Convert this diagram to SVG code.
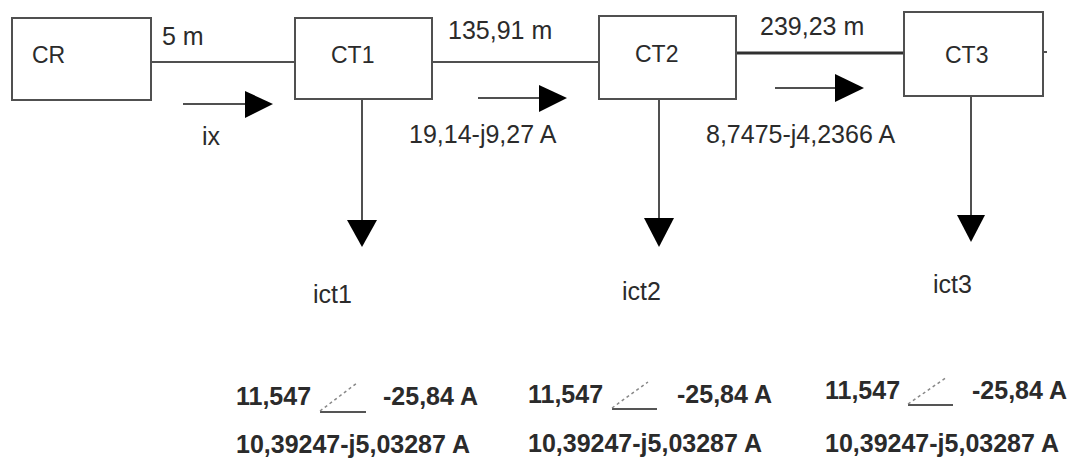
<svg xmlns="http://www.w3.org/2000/svg" width="1078" height="470" viewBox="0 0 1078 470">
<style>
.box{fill:#fff;stroke:#505050;stroke-width:2}
.ln{stroke:#505050;stroke-width:2;fill:none}
.thick{stroke:#303030;stroke-width:3.2;fill:none}
.arr{fill:#000}
text{font-family:"Liberation Sans",Arial,sans-serif;font-size:25px;fill:#2b2b2b}
.nm{font-size:23px}
.b{font-weight:bold}
.ang{stroke:#555;stroke-width:2;fill:none}
.dash{stroke:#888;stroke-width:1.5;stroke-dasharray:3 3;fill:none}
</style>
<rect width="1078" height="470" fill="#fff"/>
<g id="connectors">
<line class="ln" x1="151" y1="62" x2="295" y2="62"/>
<line class="ln" x1="432" y1="62" x2="599" y2="62"/>
<line class="thick" x1="736" y1="53" x2="904" y2="53"/>
<line class="ln" x1="1043" y1="52" x2="1047" y2="52"/>
<line class="ln" x1="183" y1="104" x2="247" y2="104"/>
<polygon class="arr" points="245,91 273,104 245,118"/>
<line class="ln" x1="478" y1="98" x2="541" y2="98"/>
<polygon class="arr" points="539,85 567,98 539,112"/>
<line class="ln" x1="775" y1="88" x2="837" y2="88"/>
<polygon class="arr" points="835,74 864,88 835,102"/>
<line class="ln" x1="362" y1="99" x2="362" y2="222"/>
<polygon class="arr" points="347,220 377,220 362,247"/>
<line class="ln" x1="659" y1="99" x2="659" y2="220"/>
<polygon class="arr" points="644,218 674,218 659,247"/>
<line class="ln" x1="971" y1="96" x2="971" y2="217"/>
<polygon class="arr" points="957,215 985,215 971,242"/>
</g>
<g id="CR"><rect class="box" x="12" y="18" width="139" height="82"/><text class="nm" x="32" y="63">CR</text></g>
<g id="CT1"><rect class="box" x="295" y="18" width="137" height="81"/><text class="nm" x="331" y="63">CT1</text></g>
<g id="CT2"><rect class="box" x="599" y="16" width="137" height="83"/><text class="nm" x="635" y="62">CT2</text></g>
<g id="CT3"><rect class="box" x="904" y="12" width="139" height="84"/><text class="nm" x="945" y="63">CT3</text></g>
<g id="labels">
<text x="162" y="45">5 m</text>
<text x="202" y="145">ix</text>
<text x="448" y="39">135,91 m</text>
<text x="409" y="143" font-size="25.5">19,14-j9,27 A</text>
<text x="760" y="35">239,23 m</text>
<text x="706" y="143" font-size="25.5">8,7475-j4,2366 A</text>
<text x="313" y="303">ict1</text>
<text x="622" y="300">ict2</text>
<text x="933" y="293">ict3</text>
</g>
<g id="values1">
<text class="b" x="236" y="405">11,547</text>
<line class="ang" x1="320" y1="412" x2="366" y2="412"/>
<line class="dash" x1="320" y1="411" x2="357" y2="383"/>
<text class="b" x="383" y="405">-25,84 A</text>
<text class="b" x="236" y="453">10,39247-j5,03287 A</text>
</g>
<g id="values2">
<text class="b" x="528" y="403">11,547</text>
<line class="ang" x1="612" y1="409" x2="657" y2="409"/>
<line class="dash" x1="612" y1="408" x2="648" y2="382"/>
<text class="b" x="677" y="403">-25,84 A</text>
<text class="b" x="528" y="452">10,39247-j5,03287 A</text>
</g>
<g id="values3">
<text class="b" x="825" y="399">11,547</text>
<line class="ang" x1="908" y1="405" x2="953" y2="405"/>
<line class="dash" x1="908" y1="404" x2="947" y2="377"/>
<text class="b" x="972" y="399">-25,84 A</text>
<text class="b" x="825" y="452">10,39247-j5,03287 A</text>
</g>
</svg>
